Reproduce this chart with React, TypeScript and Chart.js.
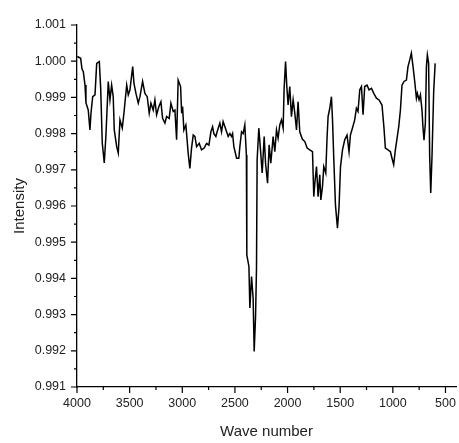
import React, { useEffect, useRef } from 'react';
import { Chart, registerables } from 'chart.js';

Chart.register(...registerables);

// IR transmission spectrum: wave number (cm-1) against relative intensity
const wavenumbers = [
  3997, 3965, 3953, 3940, 3924, 3915, 3893, 3877, 3867, 3851, 3829, 3813, 3788, 3775, 3760, 3741,
  3725, 3703, 3687, 3671, 3656, 3646, 3623, 3608, 3592, 3570, 3554, 3528, 3513, 3497, 3471, 3459,
  3440, 3418, 3402, 3377, 3355, 3333, 3314, 3298, 3276, 3260, 3244, 3222, 3203, 3187, 3165, 3149,
  3124, 3108, 3086, 3070, 3054, 3039, 3016, 3006, 2997, 2985, 2966, 2944, 2928, 2912, 2896, 2880,
  2864, 2839, 2817, 2792, 2769, 2747, 2728, 2712, 2700, 2681, 2669, 2643, 2627, 2612, 2595, 2579,
  2564, 2548, 2532, 2522, 2510, 2484, 2463, 2453, 2437, 2422, 2406, 2391, 2387, 2367, 2358, 2342,
  2327, 2317, 2304, 2295, 2289, 2273, 2257, 2241, 2222, 2209, 2190, 2175, 2159, 2137, 2121, 2105,
  2090, 2074, 2058, 2042, 2033, 2019, 2007, 1995, 1979, 1963, 1947, 1931, 1915, 1900, 1884, 1860,
  1836, 1814, 1789, 1763, 1751, 1741, 1725, 1710, 1694, 1684, 1668, 1656, 1637, 1625, 1615, 1599,
  1583, 1573, 1561, 1545, 1526, 1511, 1497, 1478, 1457, 1435, 1416, 1403, 1384, 1362, 1346, 1331,
  1314, 1298, 1283, 1267, 1245, 1226, 1203, 1181, 1156, 1131, 1103, 1084, 1071, 1046, 1023, 1008,
  992, 976, 960, 944, 928, 913, 894, 871, 856, 840, 824, 808, 792, 776, 767, 751,
  738, 723, 714, 704, 691, 681, 672, 660, 650, 640, 628, 612, 598,
];

const intensity = [
  1.00013, 1.00008, 0.99979, 0.99971, 0.99934, 0.99885, 0.99865, 0.9981, 0.99857, 0.99902, 0.99907, 0.99994, 0.99999, 0.99925, 0.99774, 0.99719,
  0.99796, 0.99944, 0.99893, 0.99934, 0.99902, 0.9981, 0.99764, 0.99746, 0.99838, 0.99815, 0.99857, 0.99934, 0.99907, 0.99921, 0.99985, 0.99939,
  0.99911, 0.99884, 0.99902, 0.99944, 0.99911, 0.99902, 0.99856, 0.99884, 0.99865, 0.99893, 0.99852, 0.99875, 0.99888, 0.99842, 0.99829, 0.99847,
  0.99842, 0.99884, 0.99861, 0.99865, 0.99783, 0.99948, 0.9993, 0.99856, 0.99875, 0.9981, 0.99824, 0.99746, 0.99704, 0.9976, 0.99796, 0.99792,
  0.99764, 0.99773, 0.99755, 0.9976, 0.99773, 0.99768, 0.99805, 0.99819, 0.998, 0.99792, 0.99805, 0.99829, 0.99805, 0.99833, 0.99819, 0.99805,
  0.99792, 0.998, 0.99792, 0.998, 0.99764, 0.99732, 0.99732, 0.99764, 0.99805, 0.998, 0.99824, 0.99741, 0.99465, 0.99433, 0.99318, 0.99405,
  0.99345, 0.99198, 0.99295, 0.99428, 0.99727, 0.99815, 0.99755, 0.99691, 0.99792, 0.99718, 0.99663, 0.99769, 0.99718, 0.99792, 0.9975, 0.9981,
  0.99787, 0.99824, 0.99838, 0.99815, 0.99921, 0.99999, 0.9993, 0.99879, 0.9993, 0.99847, 0.99893, 0.99856, 0.9981, 0.99888, 0.99805, 0.99785,
  0.99778, 0.9976, 0.99755, 0.9975, 0.99626, 0.99663, 0.99709, 0.99626, 0.99686, 0.99617, 0.99654, 0.99709, 0.99691, 0.99787, 0.99847, 0.9987,
  0.99902, 0.99838, 0.99732, 0.99603, 0.99539, 0.99598, 0.99709, 0.99755, 0.99783, 0.99796, 0.9975, 0.99796, 0.99815, 0.99838, 0.9987, 0.99861,
  0.99921, 0.9993, 0.99852, 0.9993, 0.99934, 0.99921, 0.99925, 0.99911, 0.99898, 0.99893, 0.99879, 0.99815, 0.9976, 0.99755, 0.9975, 0.99732,
  0.99714, 0.99755, 0.99787, 0.99819, 0.99865, 0.99934, 0.99944, 0.99948, 0.99985, 1.00003, 1.00022, 0.99985, 0.99944, 0.99898, 0.99911, 0.99893,
  0.99907, 0.99865, 0.99819, 0.99782, 0.99829, 0.99985, 1.00017, 0.99994, 0.99737, 0.99636, 0.99737, 0.99916, 0.99994,
];

const xMajorTicks = [4000, 3500, 3000, 2500, 2000, 1500, 1000, 500];
const yMajorTicks = [0.991, 0.992, 0.993, 0.994, 0.995, 0.996, 0.997, 0.998, 0.999, 1.0, 1.001];

const xTitle = 'Wave number';
const yTitle = 'Intensity';

const midpoints = (arr: number[]) => arr.slice(1).map((v, i) => (v + arr[i]) / 2);

// Outward major and minor tick marks on the bottom and left axes
const tickMarks = {
  id: 'tickMarks',
  afterDraw(chart: any) {
    const { ctx } = chart;
    const xs = chart.scales.x;
    const ys = chart.scales.y;
    ctx.save();
    ctx.strokeStyle = '#000';
    ctx.lineWidth = 1.2;
    ctx.beginPath();
    const xBase = xs.top;
    const draw = (vals: number[], len: number, horizontal: boolean) => {
      vals.forEach((v) => {
        if (horizontal) {
          const px = xs.getPixelForValue(v);
          ctx.moveTo(px, xBase);
          ctx.lineTo(px, xBase + len);
        } else {
          const py = ys.getPixelForValue(v);
          ctx.moveTo(ys.right, py);
          ctx.lineTo(ys.right - len, py);
        }
      });
    };
    draw(xMajorTicks, 6, true);
    draw(midpoints(xMajorTicks), 3, true);
    draw(yMajorTicks, 6, false);
    draw(midpoints(yMajorTicks), 3, false);
    ctx.stroke();
    ctx.restore();
  },
};

export default function App() {
  const canvasRef = useRef<HTMLCanvasElement | null>(null);

  useEffect(() => {
    if (!canvasRef.current) return;
    const tickFont = { family: '"Liberation Sans", Arial, sans-serif', size: 12.5 };
    const titleFont = { family: '"Liberation Sans", Arial, sans-serif', size: 15 };
    const hiddenGrid = {
      display: true,
      drawOnChartArea: false,
      drawTicks: true,
      tickLength: 6,
      color: 'rgba(0,0,0,0)',
    };
    const chart = new Chart(canvasRef.current, {
      type: 'line',
      data: {
        datasets: [
          {
            data: wavenumbers.map((w, i) => ({ x: w, y: intensity[i] })),
            borderColor: '#000',
            borderWidth: 1.5,
            pointRadius: 0,
            tension: 0,
            fill: false,
          },
        ],
      },
      options: {
        animation: false,
        responsive: false,
        devicePixelRatio: 1,
        layout: { padding: { left: 0, top: 25, right: 3, bottom: 0 } },
        plugins: {
          legend: { display: false },
          tooltip: { enabled: false },
        },
        scales: {
          x: {
            type: 'linear',
            reverse: true,
            min: 400,
            max: 4000,
            grid: hiddenGrid,
            border: { display: true, color: '#000', width: 1.3 },
            afterBuildTicks: (scale: any) => {
              scale.ticks = xMajorTicks.map((v) => ({ value: v }));
            },
            afterFit: (scale: any) => {
              scale.height = 56;
            },
            ticks: {
              color: '#222',
              font: tickFont,
              padding: 3,
              maxRotation: 0,
              autoSkip: false,
              callback: (v: any) => String(v),
            },
            title: {
              display: true,
              text: xTitle,
              color: '#222',
              font: titleFont,
              padding: { top: 0, bottom: 2 },
            },
          },
          y: {
            type: 'linear',
            min: 0.991,
            max: 1.001,
            grid: hiddenGrid,
            border: { display: true, color: '#000', width: 1.3 },
            afterBuildTicks: (scale: any) => {
              scale.ticks = yMajorTicks.map((v) => ({ value: v }));
            },
            afterFit: (scale: any) => {
              scale.width = 77;
            },
            ticks: {
              color: '#222',
              font: tickFont,
              padding: 5,
              autoSkip: false,
              callback: (v: any) => Number(v).toFixed(3),
            },
            title: {
              display: true,
              text: yTitle,
              color: '#222',
              font: titleFont,
              padding: { top: 11, bottom: 0 },
            },
          },
        },
      },
      plugins: [tickMarks],
    });
    return () => chart.destroy();
  }, []);

  return (
    <div style={{ position: 'fixed', left: 0, top: 0, width: 459, height: 443, background: '#fff' }}>
      <canvas ref={canvasRef} width={459} height={443} style={{ display: 'block' }} />
    </div>
  );
}
